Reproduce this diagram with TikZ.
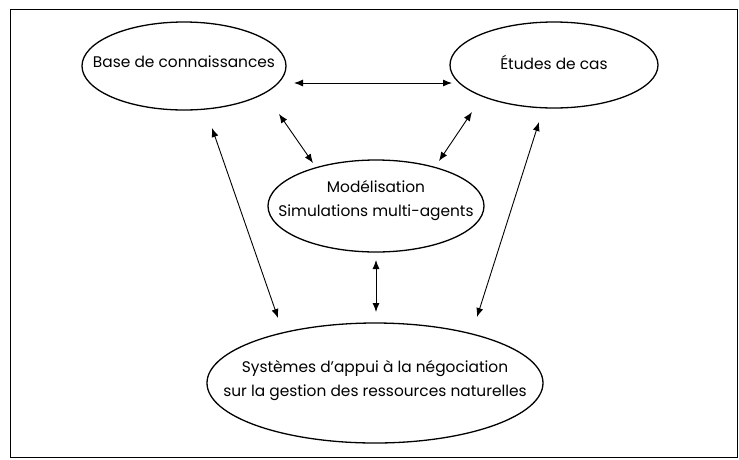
\documentclass[tikz,border=0pt]{standalone}
\usepackage{fontspec}
\setmainfont{Poppins}
\usetikzlibrary{shapes.geometric,arrows.meta}
\tikzset{
  oval/.style={draw, ellipse, line width=1.3pt, inner sep=0pt},
  lbl/.style={align=center, inner sep=0pt, font=\fontsize{15.4}{24}\selectfont},
  arr/.style={{Latex[length=9pt,width=7pt]}-{Latex[length=9pt,width=7pt]}, line width=0.9pt},
}
\begin{document}
\begin{tikzpicture}[x=1pt,y=-1pt]
\useasboundingbox (0,0) rectangle (739,459);
\draw[line width=1pt] (10,9) rectangle (737,457);
\node[oval, minimum width=204pt, minimum height=88pt] (base) at (184,66) {};
\node[oval, minimum width=208pt, minimum height=86pt] (etud) at (554,65) {};
\node[oval, minimum width=216pt, minimum height=92pt] (mod) at (376,206) {};
\node[oval, minimum width=336pt, minimum height=120pt] (sys) at (375,383) {};
\node[lbl] (baset) at ([yshift=4pt]base.center) {Base de connaissances};
\node[lbl] (etudt) at ([yshift=3pt]etud.center) {Études de cas};
\node[lbl] (modt) at ([yshift=5pt]mod.center) {Modélisation\\Simulations multi-agents};
\node[lbl] (syst) at ([yshift=2pt]sys.center) {Systèmes d’appui à la négociation\\sur la gestion des ressources naturelles};
\coordinate (a1) at (294,83);
\coordinate (a2) at (452,83);
\coordinate (b1) at (279,114);
\coordinate (b2) at (313,163);
\coordinate (c1) at (472,112);
\coordinate (c2) at (439,161);
\coordinate (d1) at (212,128);
\coordinate (d2) at (278,318);
\coordinate (e1) at (539,122);
\coordinate (e2) at (477,317);
\coordinate (f1) at (376,260);
\coordinate (f2) at (376,312);
\draw[arr] (a1) -- (a2);
\draw[arr] (b1) -- (b2);
\draw[arr] (c1) -- (c2);
\draw[arr] (d1) -- (d2);
\draw[arr] (e1) -- (e2);
\draw[arr] (f1) -- (f2);
\end{tikzpicture}
\end{document}
